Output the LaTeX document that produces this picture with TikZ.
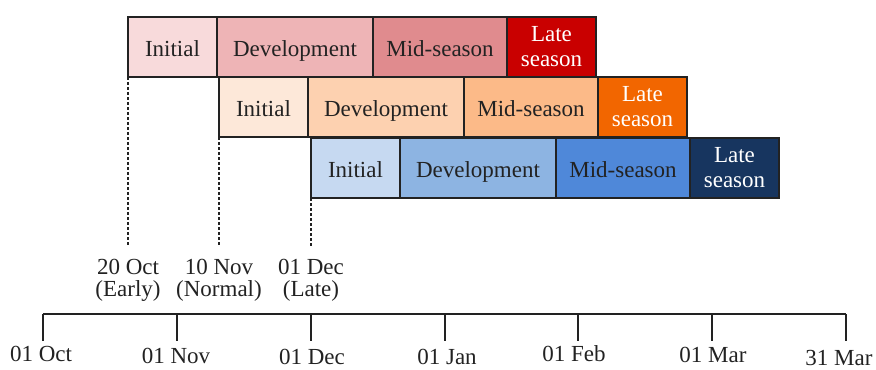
\documentclass[tikz,border=0pt]{standalone}
\usepackage{fontspec}
\setmainfont{Liberation Serif}
\usetikzlibrary{positioning}
\definecolor{redA}{HTML}{F8DADB}
\definecolor{redB}{HTML}{EEB4B6}
\definecolor{redC}{HTML}{E08B8E}
\definecolor{redD}{HTML}{C90000}
\definecolor{orangeA}{HTML}{FDE8D9}
\definecolor{orangeB}{HTML}{FDD1B0}
\definecolor{orangeC}{HTML}{FCBA88}
\definecolor{orangeD}{HTML}{F26600}
\definecolor{blueA}{HTML}{C6D9F1}
\definecolor{blueB}{HTML}{8DB4E2}
\definecolor{blueC}{HTML}{4F88D9}
\definecolor{blueD}{HTML}{17355F}
\definecolor{ink}{HTML}{222222}

\begin{document}
\begin{tikzpicture}[x=0.5pt, y=-0.5pt,
  phase/.style={draw=ink, line width=0.6pt, minimum height=30pt, inner sep=0pt, outer sep=0pt, align=center, text=ink, font=\fontsize{11.5}{12.5}\selectfont},
  oneline/.style={phase, text height=11pt, text depth=1.5pt},
  initial/.style={oneline, minimum width=44.5pt},
  develop/.style={oneline, minimum width=78pt},
  midseason/.style={oneline, minimum width=67pt},
  lateseason/.style={phase, minimum width=44.5pt, text=white},
  sowing/.style={align=center, anchor=north, inner sep=0pt, text=ink, font=\fontsize{11.5}{11}\selectfont},
  sowline/.style={draw=ink, line width=0.6pt, dash pattern=on 1.5pt off 1pt, shorten >=6pt},
  month/.style={anchor=base, inner sep=0pt, text=ink, font=\fontsize{11.5}{12}\selectfont},
  axis/.style={draw=ink, line width=0.6pt}]
\useasboundingbox (0,0) rectangle (876,369);

% early sowing
\node[initial, fill=redA, anchor=north west] (ini1) at (128,17) {Initial};
\node[develop, fill=redB, right=0pt of ini1] (dev1) {Development};
\node[midseason, fill=redC, right=0pt of dev1] (mid1) {Mid-season};
\node[lateseason, fill=redD, right=0pt of mid1] (late1) {Late\\season};

% normal sowing
\node[initial, fill=orangeA, anchor=north west] (ini2) at (219,77) {Initial};
\node[develop, fill=orangeB, right=0pt of ini2] (dev2) {Development};
\node[midseason, fill=orangeC, right=0pt of dev2] (mid2) {Mid-season};
\node[lateseason, fill=orangeD, right=0pt of mid2] (late2) {Late\\season};

% late sowing
\node[initial, fill=blueA, anchor=north west] (ini3) at (311,138) {Initial};
\node[develop, fill=blueB, right=0pt of ini3] (dev3) {Development};
\node[midseason, fill=blueC, right=0pt of dev3] (mid3) {Mid-season};
\node[lateseason, fill=blueD, right=0pt of mid3] (late3) {Late\\season};

\node[sowing] (early) at (ini1.south west |- 0,259) {20 Oct\\(Early)};
\node[sowing] (normal) at (ini2.south west |- 0,259) {10 Nov\\(Normal)};
\node[sowing] (late) at (ini3.south west |- 0,259) {01 Dec\\(Late)};
\draw[sowline] (ini1.south west) -- (early);
\draw[sowline] (ini2.south west) -- (normal);
\draw[sowline] (ini3.south west) -- (late);

% time axis
\coordinate (start) at (43,314);
\coordinate (end) at (846,314);
\draw[axis] (start) -- (end);
\foreach \tx/\lx/\by/\txt [count=\i] in {43/41/361/01 Oct, 177/176/363/01 Nov, 311/312/364/01 Dec, 445/447/364/01 Jan, 578/574/361/01 Feb, 712/713/362/01 Mar, 846/839/365/31 Mar} {
  \draw[axis] (\tx,314) -- (\tx,341);
  \node[month] (date\i) at (\lx,\by) {\txt};
}
\end{tikzpicture}
\end{document}
